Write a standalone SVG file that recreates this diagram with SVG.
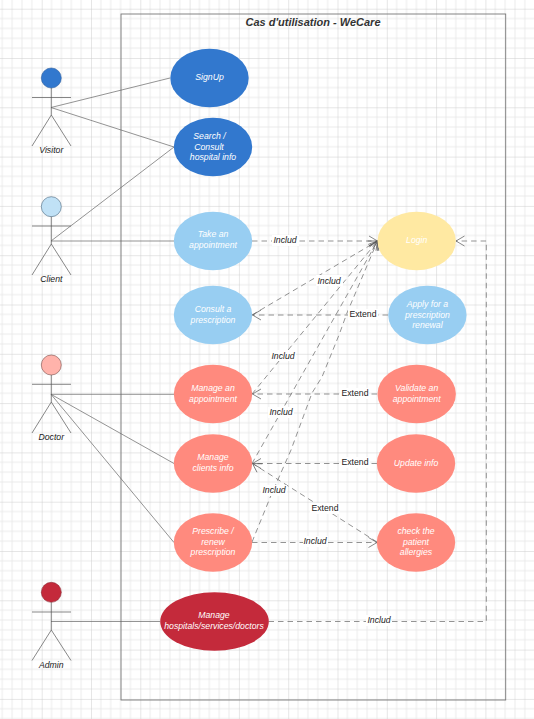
<svg xmlns="http://www.w3.org/2000/svg" width="534" height="719" viewBox="0 0 534 719">
<style>
.t{font-family:"Liberation Sans",Arial,sans-serif;font-style:italic;font-size:8.7px;text-anchor:middle}
.w{fill:#fff}
.k{fill:#222}
.n{font-style:normal}
.a{fill:none;stroke:#555;stroke-width:.7}
.d{fill:none;stroke:#666;stroke-width:.7;stroke-dasharray:5.5 4}
.s{fill:none;stroke:#666;stroke-width:.7}
.bg{fill:#fff}
.blue{fill:#3278ce}.sky{fill:#98cef2}.yel{fill:#ffe9a2}.sal{fill:#ff8a7e}.red{fill:#c42a3b}
</style>
<defs>
<pattern id="grid" x="-7.6" y="8.7" width="49.3" height="49.3" patternUnits="userSpaceOnUse">
<path d="M9.86 0V49.3M19.72 0V49.3M29.58 0V49.3M39.44 0V49.3M0 9.86H49.3M0 19.72H49.3M0 29.58H49.3M0 39.44H49.3" fill="none" stroke="#e6e6e6" stroke-width=".8"/>
<path d="M0 0V49.3M0 0H49.3" fill="none" stroke="#cdcdcd" stroke-width="1"/>
</pattern>
<marker id="o" viewBox="0 0 10 12" refX="9.500" refY="6" markerWidth="10" markerHeight="12" markerUnits="userSpaceOnUse" orient="auto"><path d="M1 1L9.500 6L1 11" fill="none" stroke="#555" stroke-width=".7"/></marker>
</defs>
<rect width="534" height="719" fill="#fff"/>
<rect width="534" height="719" fill="url(#grid)"/>
<g id="frame"><rect x="121" y="14" width="384.700" height="686" fill="none" stroke="#777" stroke-width=".9"/><text class="t" x="313" y="26" style="font-size:11px;font-weight:bold" fill="#333">Cas d'utilisation - WeCare</text></g>
<g id="connectors">
<path class="s" d="M51 107.500L170 78"/>
<path class="s" d="M51 107.500L174 147"/>
<path class="s" d="M51 241L174 147"/>
<path class="s" d="M51 241H174"/>
<path class="s" d="M51 394.300H174"/>
<path class="s" d="M51 394.300L174 463.500"/>
<path class="s" d="M51 394.300L174 542.500"/>
<path class="s" d="M51 621.500H160"/>
<path class="d" marker-end="url(#o)" d="M252 241H377.500"/>
<path class="d" marker-end="url(#o)" d="M252 315L377.500 241"/>
<path class="d" marker-end="url(#o)" d="M252 394L377.500 241"/>
<path class="d" marker-end="url(#o)" d="M252 463.500L377.500 241"/>
<path class="d" marker-end="url(#o)" d="M252 542L272 493L291 450L312 393L322 377L339 335L347 313L377.500 241"/>
<path class="d" marker-end="url(#o)" d="M388 315H252.500"/>
<path class="d" marker-end="url(#o)" d="M377 394H252.500"/>
<path class="d" marker-end="url(#o)" d="M377 463.500H252.500"/>
<path class="d" marker-end="url(#o)" d="M377 542L252.500 463.500"/>
<path class="d" marker-end="url(#o)" d="M252 542.500H377"/>
<path class="d" marker-end="url(#o)" d="M268.500 621.500H486.300V241H456"/>
</g>
<g id="actor-visitor"><circle cx="51.300" cy="78" r="10" fill="#3278ce" stroke="#2a5d9e" stroke-width=".6"/><path class="a" d="M51.300 88V115M32 97.500H71M51.300 115L32 146M51.300 115L71 146"/><text class="t k" x="51.300" y="153">Visitor</text></g>
<g id="actor-client"><circle cx="51.300" cy="206.700" r="10" fill="#c0e1f6" stroke="#44637a" stroke-width=".6"/><path class="a" d="M51.300 216.700V244M32 226H71M51.300 244L32 275M51.300 244L71 275"/><text class="t k" x="51.300" y="282">Client</text></g>
<g id="actor-doctor"><circle cx="51.300" cy="365" r="10" fill="#ffb3ab" stroke="#7a4a45" stroke-width=".6"/><path class="a" d="M51.300 375V402M32 384.300H71M51.300 402L32 433M51.300 402L71 433"/><text class="t k" x="51.300" y="440">Doctor</text></g>
<g id="actor-admin"><circle cx="51.300" cy="592.300" r="10" fill="#c42a3b" stroke="#8a2530" stroke-width=".6"/><path class="a" d="M51.300 602.300V630M32 612H71M51.300 630L32 660.500M51.300 630L71 660.500"/><text class="t k" x="51.300" y="668">Admin</text></g>
<g id="uc-signup"><ellipse class="blue" cx="209.500" cy="78" rx="39.200" ry="29.200"/><text class="t w" x="209.500" y="80">SignUp</text></g>
<g id="uc-search"><ellipse class="blue" cx="213" cy="147" rx="39.200" ry="29.200"/><text class="t w" x="209.500" y="139">Search /</text><text class="t w" x="209" y="150">Consult</text><text class="t w" x="213" y="160">hospital info</text></g>
<g id="uc-take"><ellipse class="sky" cx="213" cy="241" rx="39.200" ry="29.200"/><text class="t w" x="213" y="237">Take an</text><text class="t w" x="213" y="248">appointment</text></g>
<g id="uc-login"><ellipse class="yel" cx="416.700" cy="241" rx="39.200" ry="29.200"/><text class="t w" x="416.700" y="243">Login</text></g>
<g id="uc-consult"><ellipse class="sky" cx="213" cy="315" rx="39.200" ry="29.200"/><text class="t w" x="213" y="312">Consult a</text><text class="t w" x="213" y="323">prescription</text></g>
<g id="uc-apply"><ellipse class="sky" cx="427.400" cy="315" rx="39.200" ry="29.200"/><text class="t w" x="427.400" y="307">Apply for a</text><text class="t w" x="427.400" y="318">prescription</text><text class="t w" x="427.400" y="328">renewal</text></g>
<g id="uc-manage-appt"><ellipse class="sal" cx="213" cy="394" rx="39.200" ry="29.200"/><text class="t w" x="213" y="391">Manage an</text><text class="t w" x="213" y="402">appointment</text></g>
<g id="uc-validate"><ellipse class="sal" cx="416.700" cy="394" rx="39.200" ry="29.200"/><text class="t w" x="416.700" y="391">Validate an</text><text class="t w" x="416.700" y="402">appointment</text></g>
<g id="uc-clients"><ellipse class="sal" cx="213" cy="463.500" rx="39.200" ry="29.200"/><text class="t w" x="213" y="460">Manage</text><text class="t w" x="213" y="471">clients info</text></g>
<g id="uc-update"><ellipse class="sal" cx="416" cy="463.500" rx="39.200" ry="29.200"/><text class="t w" x="416" y="466">Update info</text></g>
<g id="uc-prescribe"><ellipse class="sal" cx="213" cy="542.500" rx="39.200" ry="29.200"/><text class="t w" x="213" y="534">Prescribe /</text><text class="t w" x="213" y="545">renew</text><text class="t w" x="213" y="555">prescription</text></g>
<g id="uc-check"><ellipse class="sal" cx="416" cy="542.500" rx="39.200" ry="29.200"/><text class="t w" x="416" y="534">check the</text><text class="t w" x="416" y="545">patient</text><text class="t w" x="416" y="555">allergies</text></g>
<g id="uc-hospitals"><ellipse class="red" cx="214.500" cy="621.500" rx="54.300" ry="29.300"/><text class="t w" x="214" y="618">Manage</text><text class="t w" x="214" y="629">hospitals/services/doctors</text></g>
<g id="labels">
<rect class="bg" x="272" y="235" width="27" height="11"/><text class="t k" x="285" y="243">Includ</text>
<rect class="bg" x="316" y="275" width="27" height="11"/><text class="t k" x="329" y="284">Includ</text>
<rect class="bg" x="270" y="350" width="26" height="11"/><text class="t k" x="283" y="359">Includ</text>
<rect class="bg" x="268" y="407" width="26" height="11"/><text class="t k" x="281" y="415">Includ</text>
<rect class="bg" x="261" y="485" width="26" height="11"/><text class="t k" x="274" y="493">Includ</text>
<rect class="bg" x="303" y="536" width="25" height="11"/><text class="t k" x="315" y="544">Includ</text>
<rect class="bg" x="366" y="615" width="25" height="11"/><text class="t k" x="379" y="623">Includ</text>
<rect class="bg" x="348" y="309" width="30" height="11"/><text class="t k n" x="363" y="317">Extend</text>
<rect class="bg" x="340" y="388" width="29" height="11"/><text class="t k n" x="355" y="396">Extend</text>
<rect class="bg" x="341" y="457" width="29" height="11"/><text class="t k n" x="355" y="465">Extend</text>
<rect class="bg" x="310" y="503" width="29" height="11"/><text class="t k n" x="325" y="511">Extend</text>
</g>
</svg>
